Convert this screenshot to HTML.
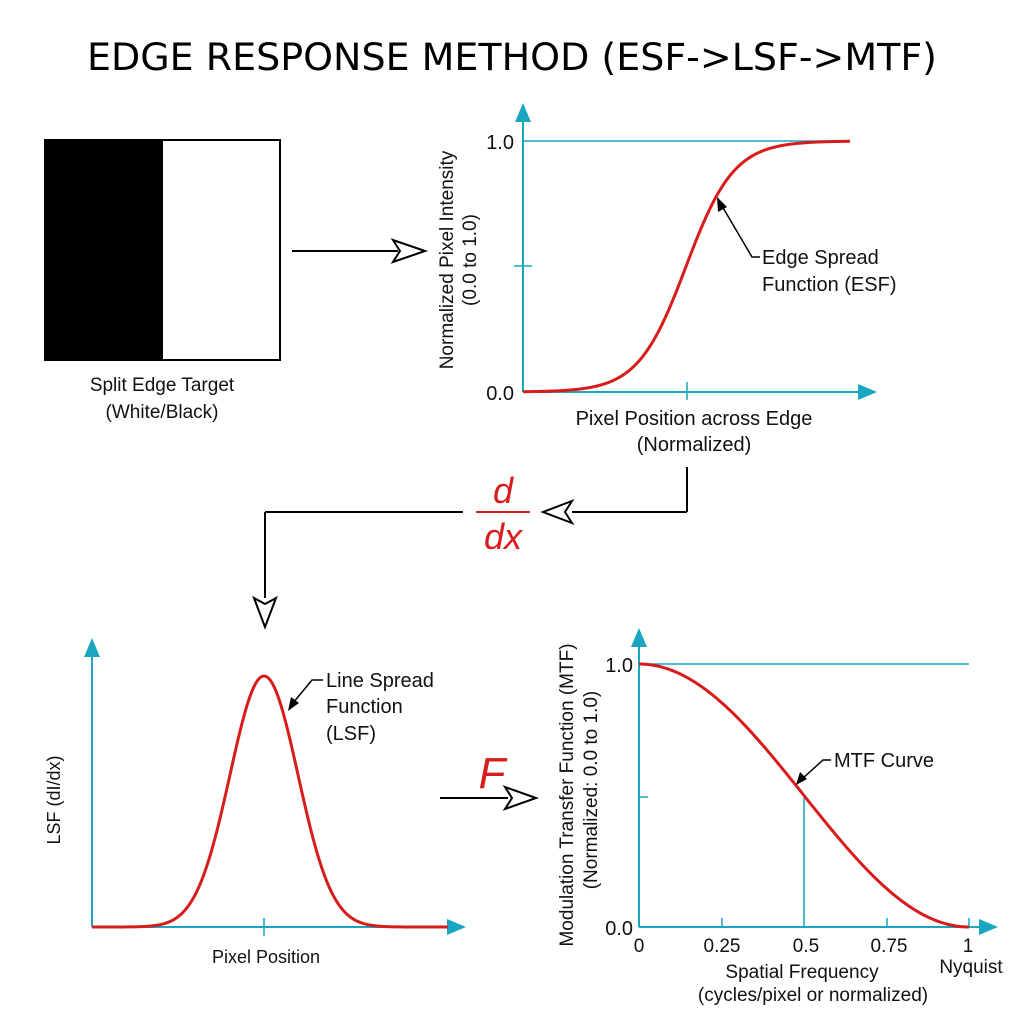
<!DOCTYPE html>
<html><head><meta charset="utf-8"><style>
html,body{margin:0;padding:0;background:#fff}
svg{display:block}
text{font-family:"Liberation Sans",Arial,sans-serif;fill:#111}
</style></head><body>
<svg id="s" width="1024" height="1024" viewBox="0 0 1024 1024" xmlns="http://www.w3.org/2000/svg">
<text x="512" y="70" text-anchor="middle" font-size="37" style="font-family:'DejaVu Sans','Liberation Sans',sans-serif;fill:#000" textLength="850" lengthAdjust="spacingAndGlyphs">EDGE RESPONSE METHOD (ESF-&gt;LSF-&gt;MTF)</text>

<rect x="45" y="140" width="235" height="220" fill="#fff" stroke="#000" stroke-width="2"/>
<rect x="45" y="140" width="118" height="220" fill="#000"/>
<text x="162" y="391" text-anchor="middle" font-size="19">Split Edge Target</text>
<text x="162" y="418" text-anchor="middle" font-size="19">(White/Black)</text>

<line x1="292" y1="251" x2="398" y2="251" stroke="#000" stroke-width="2"/>
<path d="M425,251 L393,240 L400,251 L393,262 Z" fill="#fff" stroke="#000" stroke-width="2"/>

<g stroke="#1aa5c0" stroke-width="2" fill="none">
<line x1="523" y1="392" x2="523" y2="115"/>
<line x1="523" y1="392" x2="860" y2="392"/>
<line x1="523" y1="141" x2="850" y2="141" stroke-width="1.5"/>
<line x1="514" y1="266" x2="532" y2="266" stroke-width="1.5"/>
<line x1="687" y1="382" x2="687" y2="400" stroke-width="1.5"/>
</g>
<path d="M523,103 L515,122 L531,122 Z" fill="#1aa5c0"/>
<path d="M877,392 L858,384 L858,400 Z" fill="#1aa5c0"/>
<path id="esf" fill="none" stroke="#d81c1c" stroke-width="3"/>
<text x="514" y="149" text-anchor="end" font-size="20">1.0</text>
<text x="514" y="400" text-anchor="end" font-size="20">0.0</text>
<text transform="translate(453,260) rotate(-90)" text-anchor="middle" font-size="19">Normalized Pixel Intensity</text>
<text transform="translate(476,260) rotate(-90)" text-anchor="middle" font-size="19">(0.0 to 1.0)</text>
<text x="694" y="425" text-anchor="middle" font-size="20">Pixel Position across Edge</text>
<text x="694" y="451" text-anchor="middle" font-size="20">(Normalized)</text>
<text x="762" y="264" font-size="20">Edge Spread</text>
<text x="762" y="291" font-size="20">Function (ESF)</text>
<path d="M760,257 L752,257 L722,206" stroke="#000" stroke-width="1.5" fill="none"/>
<path d="M717,197 L718,212 L727,207 Z" fill="#000"/>

<g stroke="#000" stroke-width="2" fill="none">
<line x1="687" y1="467" x2="687" y2="512"/>
<line x1="687" y1="512" x2="572" y2="512"/>
<line x1="463" y1="512" x2="265" y2="512"/>
<line x1="265" y1="512" x2="265" y2="598"/>
</g>
<path d="M543,512 L572,501 L565,512 L572,523 Z" fill="#fff" stroke="#000" stroke-width="2"/>
<path d="M265,627 L254,598 L265,604 L276,598 Z" fill="#fff" stroke="#000" stroke-width="2"/>
<text x="503" y="503" text-anchor="middle" font-size="36" font-style="italic" style="fill:#d81c1c">d</text>
<line x1="476" y1="512" x2="530" y2="512" stroke="#d81c1c" stroke-width="2"/>
<text x="503" y="549" text-anchor="middle" font-size="36" font-style="italic" style="fill:#d81c1c">dx</text>

<g stroke="#1aa5c0" stroke-width="2" fill="none">
<line x1="92" y1="927" x2="92" y2="648"/>
<line x1="92" y1="927" x2="448" y2="927"/>
<line x1="264" y1="918" x2="264" y2="936" stroke-width="1.5"/>
</g>
<path d="M92,638 L84,657 L100,657 Z" fill="#1aa5c0"/>
<path d="M466,927 L447,919 L447,935 Z" fill="#1aa5c0"/>
<path id="lsf" fill="none" stroke="#d81c1c" stroke-width="3"/>
<text transform="translate(60,800) rotate(-90)" text-anchor="middle" font-size="18">LSF (dI/dx)</text>
<text x="266" y="963" text-anchor="middle" font-size="18">Pixel Position</text>
<text x="326" y="687" font-size="20">Line Spread</text>
<text x="326" y="713" font-size="20">Function</text>
<text x="326" y="740" font-size="20">(LSF)</text>
<path d="M323,680 L312,680 L293,703" stroke="#000" stroke-width="1.5" fill="none"/>
<path d="M288,711 L291,697 L299,703 Z" fill="#000"/>

<text x="492" y="788" text-anchor="middle" font-size="44" font-style="italic" style="fill:#d81c1c">F</text>
<line x1="440" y1="798" x2="508" y2="798" stroke="#000" stroke-width="2"/>
<path d="M536,798 L505,787 L512,798 L505,809 Z" fill="#fff" stroke="#000" stroke-width="2"/>

<g stroke="#1aa5c0" stroke-width="2" fill="none">
<line x1="639" y1="927" x2="639" y2="640"/>
<line x1="639" y1="927" x2="980" y2="927"/>
<line x1="639" y1="664" x2="969" y2="664" stroke-width="1.5"/>
<line x1="639" y1="797" x2="648" y2="797" stroke-width="1.5"/>
<line x1="804" y1="797" x2="804" y2="927" stroke-width="1.5"/>
<line x1="722" y1="918" x2="722" y2="927" stroke-width="1.5"/>
<line x1="887" y1="918" x2="887" y2="927" stroke-width="1.5"/>
<line x1="969" y1="918" x2="969" y2="927" stroke-width="1.5"/>
</g>
<path d="M639,628 L631,647 L647,647 Z" fill="#1aa5c0"/>
<path d="M998,927 L979,919 L979,935 Z" fill="#1aa5c0"/>
<path id="mtf" fill="none" stroke="#d81c1c" stroke-width="3"/>
<text x="633" y="672" text-anchor="end" font-size="20">1.0</text>
<text x="633" y="935" text-anchor="end" font-size="20">0.0</text>
<text x="639" y="952" text-anchor="middle" font-size="19">0</text>
<text x="722" y="952" text-anchor="middle" font-size="19">0.25</text>
<text x="806" y="952" text-anchor="middle" font-size="19">0.5</text>
<text x="889" y="952" text-anchor="middle" font-size="19">0.75</text>
<text x="968" y="952" text-anchor="middle" font-size="19">1</text>
<text x="971" y="973" text-anchor="middle" font-size="19">Nyquist</text>
<text x="802" y="978" text-anchor="middle" font-size="19">Spatial Frequency</text>
<text x="813" y="1001" text-anchor="middle" font-size="19">(cycles/pixel or normalized)</text>
<text transform="translate(573,795) rotate(-90)" text-anchor="middle" font-size="19">Modulation Transfer Function (MTF)</text>
<text transform="translate(597,790) rotate(-90)" text-anchor="middle" font-size="19">(Normalized: 0.0 to 1.0)</text>
<text x="834" y="767" font-size="20">MTF Curve</text>
<path d="M831,760 L823,760 L802,779" stroke="#000" stroke-width="1.5" fill="none"/>
<path d="M796,785 L800,772 L807,779 Z" fill="#000"/>
</svg>
<script>
function P(f,a,b){var d="";for(var x=a;x<=b;x+=1){d+=(x==a?"M":"L")+x+","+f(x).toFixed(2)+" ";}return d;}
document.getElementById("esf").setAttribute("d",P(function(x){return 392-251/(1+Math.exp(-(x-686)/24));},523,850));
document.getElementById("lsf").setAttribute("d",P(function(x){return 927-251*Math.exp(-Math.pow(x-264,2)/(2*34*34));},92,448));
document.getElementById("mtf").setAttribute("d",P(function(x){var f=(x-639)/330;return 927-263*0.5*(1+Math.cos(Math.PI*f));},639,969));
</script>
</body></html>
